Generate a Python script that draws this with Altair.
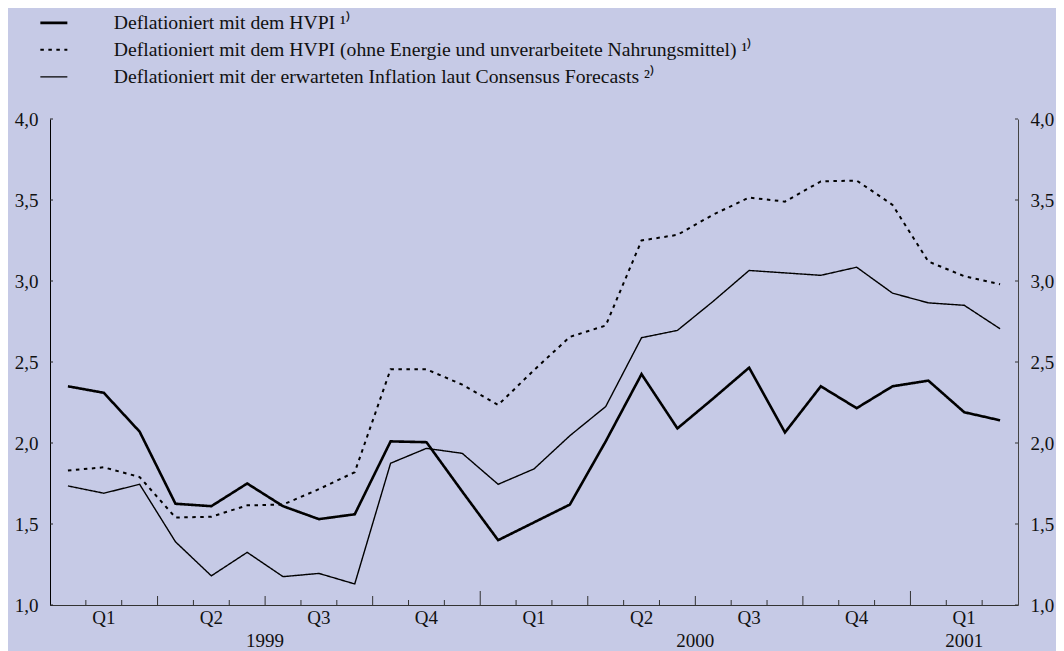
import altair as alt
import pandas as pd

# ---- data (monthly, Jan 1999 - Mar 2001) ----
hvpi = [2.35, 2.31, 2.07, 1.625, 1.61, 1.75, 1.61, 1.53, 1.56, 2.01, 2.005, 1.70,
        1.40, 1.51, 1.62, 2.01, 2.425, 2.09, 2.275, 2.465, 2.065, 2.35, 2.215, 2.35,
        2.385, 2.19, 2.14]
hvpi_core = [1.83, 1.85, 1.79, 1.54, 1.545, 1.615, 1.62, 1.715, 1.82, 2.455, 2.455, 2.36,
             2.235, 2.45, 2.655, 2.725, 3.25, 3.285, 3.41, 3.515, 3.49, 3.615, 3.62, 3.47,
             3.12, 3.03, 2.98]
consensus = [1.735, 1.69, 1.745, 1.39, 1.18, 1.325, 1.175, 1.195, 1.13, 1.875, 1.967, 1.936,
             1.745, 1.84, 2.045, 2.225, 2.65, 2.695, 2.875, 3.065, 3.05, 3.035, 3.085, 2.925,
             2.865, 2.85, 2.705]
series_names = [
    "Deflationiert mit dem HVPI ¹⁾",
    "Deflationiert mit dem HVPI (ohne Energie und unverarbeitete Nahrungsmittel) ¹⁾",
    "Deflationiert mit der erwarteten Inflation laut Consensus Forecasts ²⁾",
]
quarter_labels = ["Q1", "Q2", "Q3", "Q4", "Q1", "Q2", "Q3", "Q4", "Q1"]
year_labels = ["1999", "2000", "2001"]
year_months = [12, 12, 3]
y_ticks = [1.0, 1.5, 2.0, 2.5, 3.0, 3.5, 4.0]

# ---- style ----
W, H = 968, 486
FONT = "Liberation Serif"
BG = "#c6cae6"
FS = 19
N = len(hvpi)

rows = []
for name, vals in zip(series_names, [hvpi, hvpi_core, consensus]):
    for i, v in enumerate(vals):
        rows.append({"m": i + 0.5, "v": v, "s": name})
df = pd.DataFrame(rows)

xscale = alt.Scale(domain=[0, N], nice=False, zero=False)
xaxis = alt.Axis(labels=False, ticks=False, grid=False, title=None,
                 domainColor="#333", domainWidth=1)
yscale = alt.Scale(domain=[1, 4], nice=False, zero=False)
label_expr = "replace(format(datum.value, '.1f'), '.', ',')"

legend = alt.Legend(orient="none", legendX=-6, legendY=-106, title=None,
                    symbolType="M-3,0H3", symbolSize=81, symbolStrokeColor="black",
                    labelFont=FONT, labelFontSize=19.7, labelColor="#111", labelOffset=50,
                    rowPadding=6, labelLimit=0, direction="vertical", padding=0)

lines = alt.Chart(df).mark_line(color="black").encode(
    x=alt.X("m:Q", scale=xscale, axis=xaxis),
    y=alt.Y("v:Q", scale=yscale,
            axis=alt.Axis(values=y_ticks, labelExpr=label_expr, ticks=False, grid=False,
                          title=None, labelFont=FONT, labelFontSize=FS, labelPadding=12,
                          labelColor="#111", domainColor="#000", domainWidth=1)),
    strokeDash=alt.StrokeDash("s:N", scale=alt.Scale(domain=series_names,
                                                    range=[[1, 0], [3.5, 4.5], [1, 0]]),
                              legend=legend),
    strokeWidth=alt.StrokeWidth("s:N", scale=alt.Scale(domain=series_names,
                                                      range=[2.6, 1.4, 1.2]),
                                legend=legend),
)

ytick_df = pd.DataFrame({"t": y_ticks})
yt_left = alt.Chart(ytick_df).mark_rule(color="#222").encode(
    y=alt.Y("t:Q", scale=yscale, axis=None),
    x=alt.value(0), x2=alt.value(3),
)
yt_right = alt.Chart(ytick_df).mark_rule(color="#333").encode(
    y=alt.Y("t:Q", scale=yscale,
            axis=alt.Axis(orient="right", values=y_ticks, labelExpr=label_expr, ticks=False,
                          grid=False, title=None, labelFont=FONT, labelFontSize=FS,
                          labelPadding=12, labelColor="#111", domainColor="#444",
                          domainWidth=1)),
    x=alt.value(W - 3), x2=alt.value(W),
)

bounds = list(range(1, N))
month_b = pd.DataFrame({"b": [b for b in bounds if b % 3 != 0]})
quarter_b = pd.DataFrame({"b": [b for b in bounds if b % 3 == 0 and b % 12 != 0]})
year_b = pd.DataFrame({"b": [b for b in bounds if b % 12 == 0]})


def tick_layer(d, length):
    return alt.Chart(d).mark_rule(color="#333").encode(
        x=alt.X("b:Q", scale=xscale, axis=xaxis),
        y=alt.value(H), y2=alt.value(H - length),
    )


q_df = pd.DataFrame({"m": [3 * i + 1.5 for i in range(len(quarter_labels))],
                     "lab": quarter_labels})
starts = [sum(year_months[:i]) for i in range(len(year_months))]
y_df = pd.DataFrame({"m": [s + n / 2 for s, n in zip(starts, year_months)],
                     "lab": year_labels})

q_text = alt.Chart(q_df).mark_text(font=FONT, fontSize=FS, color="#111", baseline="middle").encode(
    x=alt.X("m:Q", scale=xscale, axis=xaxis), y=alt.value(H + 13), text="lab:N")
yr_text = alt.Chart(y_df).mark_text(font=FONT, fontSize=FS, color="#111", baseline="middle").encode(
    x=alt.X("m:Q", scale=xscale, axis=xaxis), y=alt.value(H + 36), text="lab:N")

chart = alt.layer(
    tick_layer(month_b, 5), tick_layer(quarter_b, 9), tick_layer(year_b, 14),
    yt_left, yt_right, q_text, yr_text, lines,
).resolve_scale(y="independent").properties(
    width=W, height=H,
    autosize=alt.AutoSizeParams(type="none"),
    padding={"left": 42, "top": 111, "right": 38, "bottom": 48},
).configure(background=BG, font=FONT).configure_view(stroke=None, fill=BG)

chart.save("out.html", embed_options={"renderer": "svg", "actions": False})
